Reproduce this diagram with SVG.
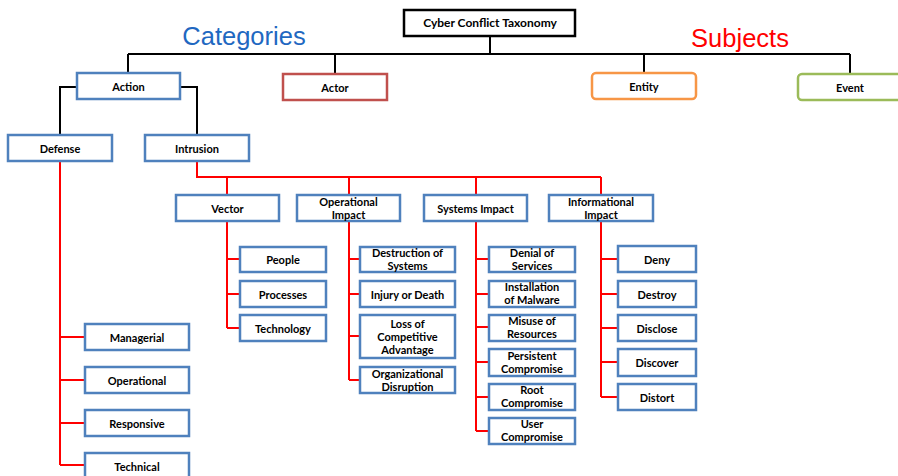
<svg xmlns="http://www.w3.org/2000/svg" width="898" height="476" viewBox="0 0 898 476">
  <style>
    .box { fill: #ffffff; stroke: #4F81BD; stroke-width: 2.5; }
    .root { fill: #ffffff; stroke: #000000; stroke-width: 2.5; }
    .actor { fill: #ffffff; stroke: #C0504D; stroke-width: 2.5; }
    .entity { fill: #ffffff; stroke: #F79646; stroke-width: 2.5; }
    .event { fill: #ffffff; stroke: #9BBB59; stroke-width: 2.5; }
    .lbl { font-family: Lato, "Open Sans", "Liberation Sans", sans-serif; font-weight: bold; font-size: 11px; fill: #000000; text-anchor: middle; }
    .title { font-size: 12px; }
    .big { font-family: "Liberation Sans", Arial, sans-serif; font-size: 25.5px; text-anchor: middle; }
    .blk { fill: none; stroke: #000000; stroke-width: 2; }
    .red { fill: none; stroke: #FF0000; stroke-width: 2; }
  </style>

  <!-- section headings -->
  <text class="big" x="244" y="45" fill="#1F68C1">Categories</text>
  <text class="big" x="740" y="47" fill="#FF0000">Subjects</text>

  <!-- connectors -->
  <g id="connectors">
    <!-- top level (black) -->
    <path class="blk" d="M490 36 V54 M128 54 H850 M128 54 V73 M335 54 V73 M644 54 V73 M850 54 V73"/>
    <path class="blk" d="M77 87 H60 V135 M180 87 H197 V135"/>
    <!-- defense branch -->
    <path class="red" d="M60 161 V465 M60 337 H85 M60 380 H85 M60 423 H85 M60 465 H85"/>
    <!-- intrusion branch -->
    <path class="red" d="M197 161 V177 H601 M227 177 V195 M349 177 V195 M476 177 V195 M601 177 V195"/>
    <!-- vector -->
    <path class="red" d="M227 221 V328 M227 259 H240 M227 294 H240 M227 328 H240"/>
    <!-- operational impact -->
    <path class="red" d="M349 221 V380 M349 259 H360 M349 294 H360 M349 336 H360 M349 380 H360"/>
    <!-- systems impact -->
    <path class="red" d="M476 221 V431 M476 259 H489 M476 294 H489 M476 327 H489 M476 362 H489 M476 397 H489 M476 431 H489"/>
    <!-- informational impact -->
    <path class="red" d="M601 221 V397 M601 259 H618 M601 294 H618 M601 328 H618 M601 362 H618 M601 397 H618"/>
  </g>

  <!-- root -->
  <g id="taxonomy">
    <rect class="root" x="404" y="10" width="171" height="26"/>
    <text class="lbl title" x="490" y="27">Cyber Conflict Taxonomy</text>
  </g>

  <!-- categories -->
  <g id="action">
    <rect class="box" x="77" y="73" width="103" height="26"/>
    <text class="lbl" x="128.5" y="91">Action</text>
  </g>
  <g id="actor">
    <rect class="actor" x="283" y="74" width="104" height="26"/>
    <text class="lbl" x="335" y="92">Actor</text>
  </g>

  <!-- subjects -->
  <g id="entity">
    <rect class="entity" x="592" y="73" width="104" height="26" rx="4"/>
    <text class="lbl" x="644" y="91">Entity</text>
  </g>
  <g id="event">
    <rect class="event" x="798" y="74" width="104" height="26" rx="4"/>
    <text class="lbl" x="850" y="92">Event</text>
  </g>

  <!-- action children -->
  <g id="defense">
    <rect class="box" x="8" y="135" width="104" height="26"/>
    <text class="lbl" x="60" y="153">Defense</text>
  </g>
  <g id="intrusion">
    <rect class="box" x="145" y="135" width="104" height="26"/>
    <text class="lbl" x="197" y="153">Intrusion</text>
  </g>

  <!-- defense children -->
  <g id="managerial">
    <rect class="box" x="85" y="324" width="104" height="26"/>
    <text class="lbl" x="137" y="342">Managerial</text>
  </g>
  <g id="operational">
    <rect class="box" x="85" y="367" width="104" height="26"/>
    <text class="lbl" x="137" y="385">Operational</text>
  </g>
  <g id="responsive">
    <rect class="box" x="85" y="410" width="104" height="26"/>
    <text class="lbl" x="137" y="428">Responsive</text>
  </g>
  <g id="technical">
    <rect class="box" x="85" y="453" width="104" height="26"/>
    <text class="lbl" x="137" y="471">Technical</text>
  </g>

  <!-- intrusion children -->
  <g id="vector">
    <rect class="box" x="176" y="195" width="103" height="26"/>
    <text class="lbl" x="227.5" y="213">Vector</text>
  </g>
  <g id="operational-impact">
    <rect class="box" x="297" y="195" width="103" height="26"/>
    <text class="lbl" x="348.5" y="206">Operational</text>
    <text class="lbl" x="348.5" y="219">Impact</text>
  </g>
  <g id="systems-impact">
    <rect class="box" x="424" y="195" width="103" height="26"/>
    <text class="lbl" x="475.5" y="213">Systems Impact</text>
  </g>
  <g id="informational-impact">
    <rect class="box" x="549" y="195" width="104" height="26"/>
    <text class="lbl" x="601" y="206">Informational</text>
    <text class="lbl" x="601" y="219">Impact</text>
  </g>

  <!-- vector children -->
  <g id="people">
    <rect class="box" x="240" y="247" width="86" height="25"/>
    <text class="lbl" x="283" y="264">People</text>
  </g>
  <g id="processes">
    <rect class="box" x="240" y="281" width="86" height="26"/>
    <text class="lbl" x="283" y="299">Processes</text>
  </g>
  <g id="technology">
    <rect class="box" x="240" y="315" width="86" height="26"/>
    <text class="lbl" x="283" y="333">Technology</text>
  </g>

  <!-- operational impact children -->
  <g id="destruction">
    <rect class="box" x="360" y="247" width="95" height="25"/>
    <text class="lbl" x="407.5" y="257">Destruction of</text>
    <text class="lbl" x="407.5" y="270">Systems</text>
  </g>
  <g id="injury">
    <rect class="box" x="360" y="281" width="95" height="26"/>
    <text class="lbl" x="407.5" y="299">Injury or Death</text>
  </g>
  <g id="loss">
    <rect class="box" x="360" y="315" width="95" height="43"/>
    <text class="lbl" x="407.5" y="328">Loss of</text>
    <text class="lbl" x="407.5" y="341">Competitive</text>
    <text class="lbl" x="407.5" y="354">Advantage</text>
  </g>
  <g id="disruption">
    <rect class="box" x="360" y="367" width="95" height="26"/>
    <text class="lbl" x="407.5" y="378">Organizational</text>
    <text class="lbl" x="407.5" y="391">Disruption</text>
  </g>

  <!-- systems impact children -->
  <g id="denial">
    <rect class="box" x="489" y="247" width="86" height="25"/>
    <text class="lbl" x="532" y="257">Denial of</text>
    <text class="lbl" x="532" y="270">Services</text>
  </g>
  <g id="malware">
    <rect class="box" x="489" y="281" width="86" height="26"/>
    <text class="lbl" x="532" y="291">Installation</text>
    <text class="lbl" x="532" y="304">of Malware</text>
  </g>
  <g id="misuse">
    <rect class="box" x="489" y="315" width="86" height="26"/>
    <text class="lbl" x="532" y="325">Misuse of</text>
    <text class="lbl" x="532" y="338">Resources</text>
  </g>
  <g id="persistent">
    <rect class="box" x="489" y="349" width="86" height="27"/>
    <text class="lbl" x="532" y="360">Persistent</text>
    <text class="lbl" x="532" y="373">Compromise</text>
  </g>
  <g id="root-compromise">
    <rect class="box" x="489" y="384" width="86" height="26"/>
    <text class="lbl" x="532" y="394">Root</text>
    <text class="lbl" x="532" y="407">Compromise</text>
  </g>
  <g id="user-compromise">
    <rect class="box" x="489" y="418" width="86" height="26"/>
    <text class="lbl" x="532" y="428">User</text>
    <text class="lbl" x="532" y="441">Compromise</text>
  </g>

  <!-- informational impact children -->
  <g id="deny">
    <rect class="box" x="618" y="246" width="78" height="26"/>
    <text class="lbl" x="657" y="264">Deny</text>
  </g>
  <g id="destroy">
    <rect class="box" x="618" y="281" width="78" height="26"/>
    <text class="lbl" x="657" y="299">Destroy</text>
  </g>
  <g id="disclose">
    <rect class="box" x="618" y="315" width="78" height="26"/>
    <text class="lbl" x="657" y="333">Disclose</text>
  </g>
  <g id="discover">
    <rect class="box" x="618" y="349" width="78" height="27"/>
    <text class="lbl" x="657" y="367">Discover</text>
  </g>
  <g id="distort">
    <rect class="box" x="618" y="384" width="78" height="26"/>
    <text class="lbl" x="657" y="402">Distort</text>
  </g>
</svg>
